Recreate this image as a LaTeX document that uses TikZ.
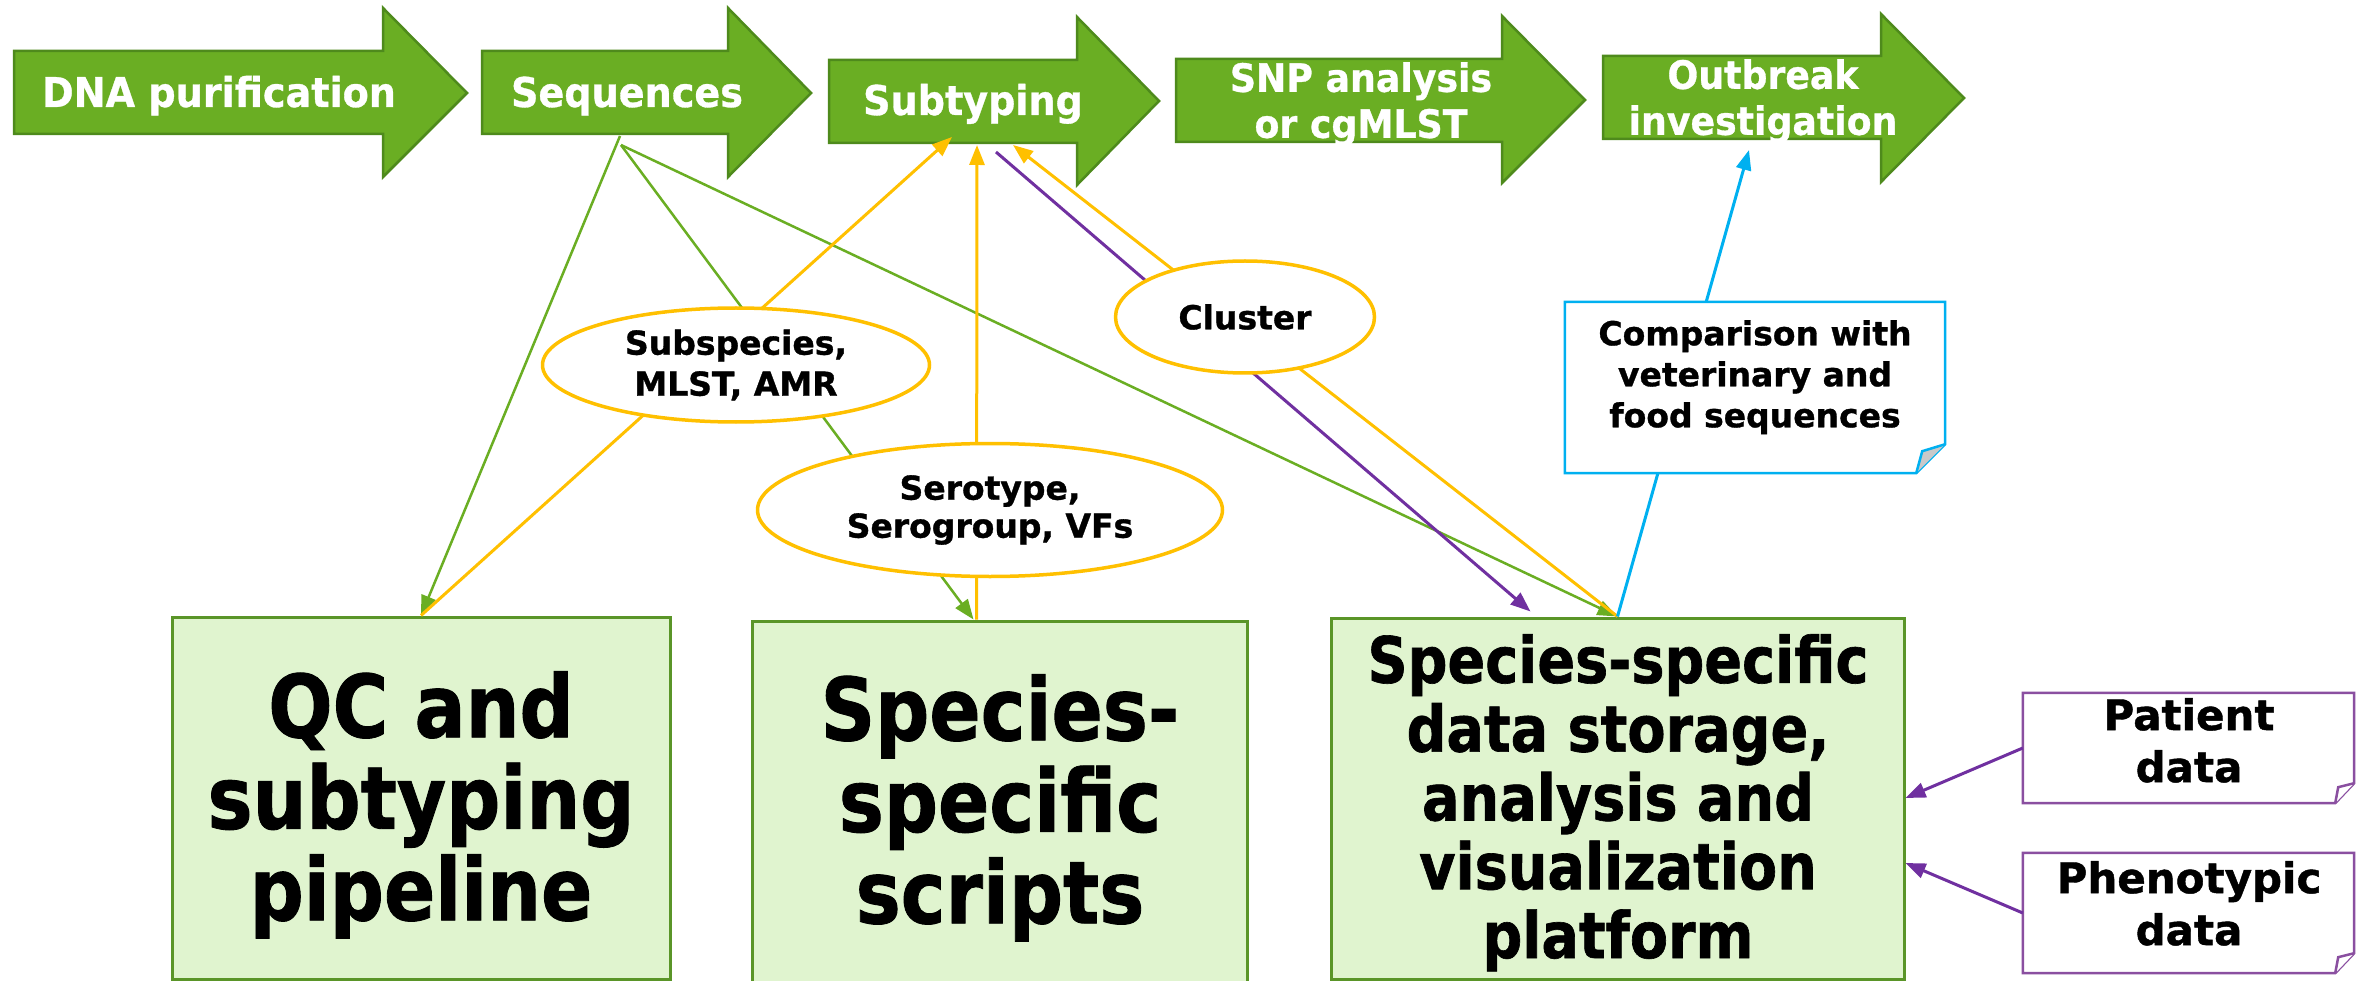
\documentclass[tikz,border=0pt]{standalone}
\usepackage{fontspec}
\setmainfont{DejaVu Sans}[BoldFeatures={FakeBold=1}]
\newfontfamily\condf{DejaVu Sans}[FakeStretch=0.87,BoldFeatures={FakeBold=1}]
\newfontfamily\condarr{DejaVu Sans}[FakeStretch=0.93,BoldFeatures={FakeBold=0.8}]
\usetikzlibrary{shapes.geometric,arrows.meta,calc}
\definecolor{agreen}{HTML}{6AAE23}
\definecolor{agreenD}{HTML}{4E8A1C}
\definecolor{boxfill}{HTML}{E0F4CF}
\definecolor{boxline}{HTML}{5A9528}
\definecolor{ylw}{HTML}{FFC000}
\definecolor{prp}{HTML}{7030A0}
\definecolor{prpN}{HTML}{8A4FA0}
\definecolor{blu}{HTML}{00B0F0}
\definecolor{foldgray}{HTML}{C9C9C9}
\newcommand\flowarr[8]{\path[flowarrow] (#1,#2) -- (#4,#2) -- (#4,#5) -- (#7,#8) -- (#4,#6) -- (#4,#3) -- (#1,#3) -- cycle;}
\begin{document}
\begin{tikzpicture}[x=1pt,y=-1pt,
  flowarrow/.style={fill=agreen,draw=agreenD,line width=2.5pt,line join=miter},
  arrowtext/.style={text=white,font=\condarr\bfseries\fontsize{41}{49}\selectfont,inner sep=0pt,anchor=base},
  arrowtwo/.style={text=white,font=\condarr\bfseries\fontsize{39}{46}\selectfont,inner sep=0pt,anchor=north,align=center},
  bigbox/.style={draw=boxline,fill=boxfill,line width=3pt,inner sep=0pt},
  boxtextL/.style={font=\condf\bfseries\fontsize{87}{91.5}\selectfont,inner sep=0pt,anchor=north,align=center},
  boxtextM/.style={font=\condf\bfseries\fontsize{64}{68.8}\selectfont,inner sep=0pt,anchor=north,align=center},
  ell/.style={ellipse,draw=ylw,line width=3.5pt,fill=white,inner sep=0pt,align=center},
  notebox/.style={inner sep=0pt},
  noteline/.style={line width=2.5pt,fill=white,line join=miter},
  notetext/.style={font=\bfseries\fontsize{33}{41}\selectfont,inner sep=0pt,anchor=north,align=center},
  datatext/.style={font=\bfseries\fontsize{42}{52}\selectfont,inner sep=0pt,anchor=north,align=center},
  gline/.style={draw=agreen,line width=2.5pt},
  yline/.style={draw=ylw,line width=3pt},
  pline/.style={draw=prp,line width=3pt},
  bline/.style={draw=blu,line width=3pt},
  tipped/.style={-{Triangle[length=20pt,width=15pt]}}
]
\useasboundingbox (0,0) rectangle (2356,981);
\fill[white] (0,0) rectangle (2356,981);

% process arrows
\flowarr{14}{51}{134}{383}{8}{177}{467}{93}
\flowarr{482}{51}{134}{728}{8}{177}{811}{93}
\flowarr{829}{60}{143}{1077}{17}{185}{1159}{101}
\flowarr{1176}{59}{142}{1502}{16}{183}{1585}{100}
\flowarr{1603}{56}{139}{1881}{14}{182}{1964}{98}
\node[arrowtext] (dna) at (219,107) {DNA purification};
\node[arrowtext] (seq) at (627,107) {Sequences};
\node[arrowtext] (sub) at (973,115) {Subtyping};
\node[arrowtwo] (snp) at (1361,62) {SNP analysis\\or cgMLST};
\node[arrowtwo] (out) at (1763,59) {Outbreak\\investigation};

% big boxes
\node[bigbox,minimum width=498,minimum height=362] (qc) at (421,798) {};
\node[bigbox,minimum width=495,minimum height=364] (scr) at (999.5,803) {};
\node[bigbox,minimum width=573,minimum height=361] (plat) at (1617.5,798.5) {};
\node[boxtextL] (qct) at (421,671) {QC and\\subtyping\\pipeline};
\node[boxtextL] (scrt) at (1000,674) {Species-\\specific\\scripts};
\node[boxtextM] (platt) at (1618,634) {Species-specific\\data storage,\\analysis and\\visualization\\platform};

% data notes
\node[notebox,minimum width=331,minimum height=110] (pat) at (2188.5,748) {};
\draw[noteline,draw=prpN] (pat.north west) -- (pat.north east) -- ($(pat.south east)+(0,-20)$) -- ($(pat.south east)+(-19,0)$) -- (pat.south west) -- cycle;
\draw[noteline,draw=prpN] ($(pat.south east)+(-19,0)$) -- ($(pat.south east)+(-16,-16)$) -- ($(pat.south east)+(0,-20)$);
\node[datatext] (patt) at (2189,698) {Patient\\data};
\node[notebox,minimum width=331,minimum height=120] (phe) at (2188.5,913) {};
\draw[noteline,draw=prpN] (phe.north west) -- (phe.north east) -- ($(phe.south east)+(0,-20)$) -- ($(phe.south east)+(-19,0)$) -- (phe.south west) -- cycle;
\draw[noteline,draw=prpN] ($(phe.south east)+(-19,0)$) -- ($(phe.south east)+(-16,-16)$) -- ($(phe.south east)+(0,-20)$);
\node[datatext] (phet) at (2189,861) {Phenotypic\\data};

% connector end points
\coordinate (sqa) at (620,136);
\coordinate (sqb) at (621,145);
\coordinate (subA) at (952,137);
\coordinate (subB) at (977,145);
\coordinate (subC) at (1013,145);
\coordinate (subD) at (996,152);
\coordinate (outA) at (1749,150);
\coordinate (scrA) at ($(scr.north)+(-26,0)$);
\coordinate (scrB) at ($(scr.north)+(-23,0)$);
\coordinate (platP) at ($(plat.north)+(-87,-5)$);
\coordinate (platR1) at ($(plat.east)+(0,-0.5)$);
\coordinate (platR2) at ($(plat.east)+(0,64.5)$);

% connectors
\draw[gline,tipped] (sqa) -- (qc.north);
\draw[gline,tipped] (sqb) -- (scrA);
\draw[gline,tipped] (sqb) -- (plat.north);
\draw[yline,tipped] (qc.north) -- (subA);
\draw[yline,tipped] (scrB) -- (subB);
\draw[yline,tipped] (plat.north) -- (subC);
\draw[pline,tipped] (subD) -- (platP);
\draw[bline,tipped] (plat.north) -- (outA);
\draw[pline,tipped] (pat.west) -- (platR1);
\draw[pline,tipped] (phe.west) -- (platR2);

% labels on connectors
\node[ell,minimum width=387,minimum height=114,font=\bfseries\fontsize{33}{41}\selectfont] (e1) at (736,365) {Subspecies,\\MLST, AMR};
\node[ell,minimum width=465,minimum height=133,font=\bfseries\fontsize{33}{38}\selectfont] (e2) at (990,510) {Serotype,\\Serogroup, VFs};
\node[ell,minimum width=259,minimum height=112,font=\bfseries\fontsize{33}{41}\selectfont] (e3) at (1245,317) {Cluster};

% comparison note
\node[notebox,minimum width=380,minimum height=171] (cmp) at (1755,387.5) {};
\draw[noteline,draw=blu] (cmp.north west) -- (cmp.north east) -- ($(cmp.south east)+(0,-29)$) -- ($(cmp.south east)+(-29,0)$) -- (cmp.south west) -- cycle;
\draw[noteline,draw=blu,fill=foldgray] ($(cmp.south east)+(-29,0)$) -- ($(cmp.south east)+(-23,-22)$) -- ($(cmp.south east)+(0,-29)$);
\node[notetext] (cmpt) at (1755,320) {Comparison with\\veterinary and\\food sequences};
\end{tikzpicture}
\end{document}
